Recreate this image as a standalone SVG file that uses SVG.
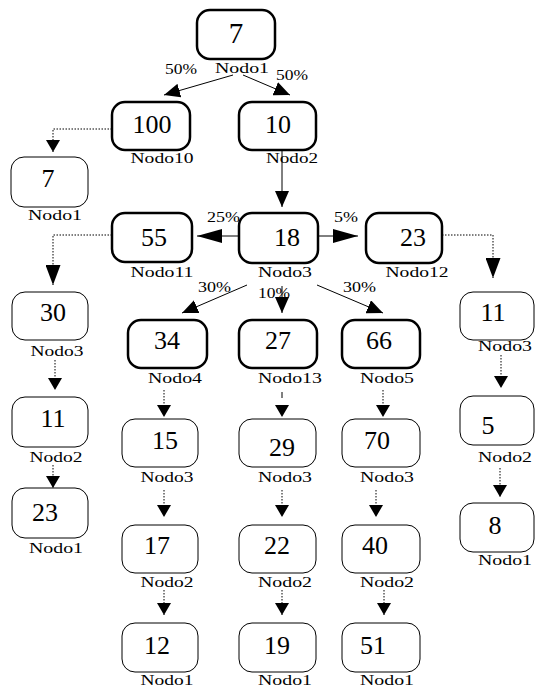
<svg xmlns="http://www.w3.org/2000/svg" width="535" height="688" viewBox="0 0 535 688">
<style>
.b{fill:#fff;stroke:#000;stroke-width:2.5}
.t{fill:#fff;stroke:#000;stroke-width:1}
.v{font-family:"Liberation Serif","DejaVu Serif",serif;font-size:26px;text-anchor:middle;fill:#000}
.l{font-family:"Liberation Serif","DejaVu Serif",serif;font-size:14px;text-anchor:middle;fill:#000}
.p{font-family:"Liberation Serif","DejaVu Serif",serif;font-size:15px;fill:#000}
.s{fill:none;stroke:#000;stroke-width:1}
.d{fill:none;stroke:#000;stroke-width:1;stroke-dasharray:1.5 1.5}
</style>
<defs>
<marker id="ah" markerUnits="userSpaceOnUse" markerWidth="16" markerHeight="14" refX="16" refY="7" orient="auto"><path d="M0,0L16,7L0,14Z" fill="#000"/></marker>
<marker id="ahH" markerUnits="userSpaceOnUse" markerWidth="25" markerHeight="14" refX="25" refY="7" orient="auto"><path d="M0,0L25,7L0,14Z" fill="#000"/></marker>
<marker id="ahD" markerUnits="userSpaceOnUse" markerWidth="12" markerHeight="14" refX="12" refY="7" orient="auto"><path d="M0,0L12,7L0,14Z" fill="#000"/></marker>
<marker id="ahB" markerUnits="userSpaceOnUse" markerWidth="20" markerHeight="15" refX="20" refY="7.5" orient="auto"><path d="M0,0L20,7.5L0,15Z" fill="#000"/></marker>
</defs>

<g id="connectors">
<line class="s" x1="233" y1="75" x2="164" y2="95" marker-end="url(#ah)"/>
<line class="s" x1="243" y1="75" x2="290" y2="95" marker-end="url(#ah)"/>
<line class="s" x1="282" y1="150" x2="282" y2="207" marker-end="url(#ah)"/>
<line class="s" x1="239" y1="236" x2="197" y2="236" marker-end="url(#ahH)"/>
<line class="s" x1="318" y1="236" x2="358" y2="236" marker-end="url(#ahH)"/>
<line class="s" x1="247" y1="285" x2="182" y2="313" marker-end="url(#ah)"/>
<line class="s" x1="282" y1="286" x2="282" y2="313" marker-end="url(#ah)"/>
<line class="s" x1="317" y1="285" x2="383" y2="313" marker-end="url(#ah)"/>
<path class="d" d="M112,129H53V152" marker-end="url(#ahD)"/>
<path class="d" d="M112,235H53V285" marker-end="url(#ahB)"/>
<path class="d" d="M442,235H493V278" marker-end="url(#ahB)"/>
<path class="d" d="M55,360V390" marker-end="url(#ahD)"/>
<path class="d" d="M53,465V488" marker-end="url(#ahD)"/>
<path class="d" d="M501,355V388" marker-end="url(#ahD)"/>
<path class="d" d="M500,468V497" marker-end="url(#ahD)"/>
<path class="d" d="M164,390V417" marker-end="url(#ahD)"/>
<line class="s" x1="282" y1="392" x2="282" y2="398"/>
<path class="d" d="M282,405V417" marker-end="url(#ahD)"/>
<path class="d" d="M383,390V417" marker-end="url(#ahD)"/>
<path class="d" d="M164,490V517" marker-end="url(#ahD)"/>
<path class="d" d="M282,490V517" marker-end="url(#ahD)"/>
<path class="d" d="M376,490V517" marker-end="url(#ahD)"/>
<path class="d" d="M164,590V615" marker-end="url(#ahD)"/>
<path class="d" d="M282,590V615" marker-end="url(#ahD)"/>
<path class="d" d="M384,590V615" marker-end="url(#ahD)"/>
<text class="p" x="165" y="74" textLength="32" lengthAdjust="spacingAndGlyphs">50%</text>
<text class="p" x="276" y="80" textLength="32" lengthAdjust="spacingAndGlyphs">50%</text>
<text class="p" x="207" y="222" textLength="33" lengthAdjust="spacingAndGlyphs">25%</text>
<text class="p" x="334" y="222" textLength="24" lengthAdjust="spacingAndGlyphs">5%</text>
<text class="p" x="198" y="292" textLength="33" lengthAdjust="spacingAndGlyphs">30%</text>
<text class="p" x="258" y="298" textLength="32" lengthAdjust="spacingAndGlyphs">10%</text>
<text class="p" x="343" y="292" textLength="33" lengthAdjust="spacingAndGlyphs">30%</text>
</g>

<g id="n1"><rect class="b" x="197" y="10" width="78" height="49" rx="13"/><text class="v" x="236" y="43" style="font-size:29px">7</text><text class="l" x="242" y="73" textLength="54" lengthAdjust="spacingAndGlyphs">Nodo1</text></g>
<g id="n100"><rect class="b" x="112" y="102" width="78" height="48" rx="13"/><text class="v" x="152" y="133">100</text><text class="l" x="162" y="163" textLength="63" lengthAdjust="spacingAndGlyphs">Nodo10</text></g>
<g id="n10"><rect class="b" x="239" y="102" width="77" height="48" rx="13"/><text class="v" x="278" y="133">10</text><text class="l" x="292" y="163" textLength="52" lengthAdjust="spacingAndGlyphs">Nodo2</text></g>
<g id="n7b"><rect class="t" x="11" y="157" width="77" height="50" rx="13"/><text class="v" x="48" y="187">7</text><text class="l" x="55" y="220" textLength="54" lengthAdjust="spacingAndGlyphs">Nodo1</text></g>
<g id="n55"><rect class="b" x="112" y="213" width="80" height="49" rx="13"/><text class="v" x="154" y="246">55</text><text class="l" x="162" y="277" textLength="63" lengthAdjust="spacingAndGlyphs">Nodo11</text></g>
<g id="n18"><rect class="b" x="239" y="213" width="79" height="50" rx="13"/><text class="v" x="287" y="246">18</text><text class="l" x="285" y="277" textLength="54" lengthAdjust="spacingAndGlyphs">Nodo3</text></g>
<g id="n23a"><rect class="b" x="366" y="213" width="76" height="50" rx="13"/><text class="v" x="413" y="246">23</text><text class="l" x="417" y="277" textLength="63" lengthAdjust="spacingAndGlyphs">Nodo12</text></g>
<g id="n30"><rect class="t" x="12" y="292" width="76" height="48" rx="13"/><text class="v" x="53" y="321">30</text><text class="l" x="57" y="356" textLength="53" lengthAdjust="spacingAndGlyphs">Nodo3</text></g>
<g id="n11a"><rect class="t" x="12" y="397" width="76" height="50" rx="13"/><text class="v" x="53" y="427">11</text><text class="l" x="56" y="462" textLength="53" lengthAdjust="spacingAndGlyphs">Nodo2</text></g>
<g id="n23b"><rect class="t" x="12" y="488" width="76" height="50" rx="13"/><text class="v" x="45" y="521">23</text><text class="l" x="56" y="553" textLength="54" lengthAdjust="spacingAndGlyphs">Nodo1</text></g>
<g id="n11b"><rect class="t" x="460" y="292" width="74" height="48" rx="13"/><text class="v" x="493" y="321">11</text><text class="l" x="505" y="351" textLength="54" lengthAdjust="spacingAndGlyphs">Nodo3</text></g>
<g id="n5"><rect class="t" x="460" y="396" width="74" height="49" rx="13"/><text class="v" x="488" y="434">5</text><text class="l" x="505" y="462" textLength="54" lengthAdjust="spacingAndGlyphs">Nodo2</text></g>
<g id="n8"><rect class="t" x="460" y="503" width="74" height="49" rx="13"/><text class="v" x="495" y="534">8</text><text class="l" x="505" y="565" textLength="54" lengthAdjust="spacingAndGlyphs">Nodo1</text></g>
<g id="n34"><rect class="b" x="128" y="320" width="79" height="48" rx="13"/><text class="v" x="167" y="349">34</text><text class="l" x="175" y="383" textLength="54" lengthAdjust="spacingAndGlyphs">Nodo4</text></g>
<g id="n27"><rect class="b" x="239" y="320" width="78" height="48" rx="13"/><text class="v" x="278" y="349">27</text><text class="l" x="290" y="383" textLength="64" lengthAdjust="spacingAndGlyphs">Nodo13</text></g>
<g id="n66"><rect class="b" x="342" y="320" width="78" height="48" rx="13"/><text class="v" x="379" y="349">66</text><text class="l" x="387" y="383" textLength="54" lengthAdjust="spacingAndGlyphs">Nodo5</text></g>
<g id="n15"><rect class="t" x="122" y="419" width="76" height="48" rx="13"/><text class="v" x="165" y="449">15</text><text class="l" x="167" y="482" textLength="53" lengthAdjust="spacingAndGlyphs">Nodo3</text></g>
<g id="n29"><rect class="t" x="239" y="419" width="77" height="48" rx="13"/><text class="v" x="282" y="456">29</text><text class="l" x="285" y="482" textLength="54" lengthAdjust="spacingAndGlyphs">Nodo3</text></g>
<g id="n70"><rect class="t" x="342" y="419" width="78" height="48" rx="13"/><text class="v" x="377" y="449">70</text><text class="l" x="387" y="482" textLength="54" lengthAdjust="spacingAndGlyphs">Nodo3</text></g>
<g id="n17"><rect class="t" x="122" y="525" width="76" height="48" rx="13"/><text class="v" x="157" y="554">17</text><text class="l" x="167" y="587" textLength="53" lengthAdjust="spacingAndGlyphs">Nodo2</text></g>
<g id="n22"><rect class="t" x="239" y="525" width="77" height="48" rx="13"/><text class="v" x="277" y="554">22</text><text class="l" x="285" y="587" textLength="54" lengthAdjust="spacingAndGlyphs">Nodo2</text></g>
<g id="n40"><rect class="t" x="342" y="525" width="78" height="48" rx="13"/><text class="v" x="375" y="554">40</text><text class="l" x="387" y="587" textLength="54" lengthAdjust="spacingAndGlyphs">Nodo2</text></g>
<g id="n12"><rect class="t" x="122" y="623" width="76" height="49" rx="13"/><text class="v" x="157" y="654">12</text><text class="l" x="167" y="685" textLength="53" lengthAdjust="spacingAndGlyphs">Nodo1</text></g>
<g id="n19"><rect class="t" x="239" y="623" width="77" height="49" rx="13"/><text class="v" x="277" y="654">19</text><text class="l" x="285" y="685" textLength="54" lengthAdjust="spacingAndGlyphs">Nodo1</text></g>
<g id="n51"><rect class="t" x="342" y="623" width="78" height="49" rx="13"/><text class="v" x="373" y="654">51</text><text class="l" x="387" y="685" textLength="54" lengthAdjust="spacingAndGlyphs">Nodo1</text></g>
</svg>
